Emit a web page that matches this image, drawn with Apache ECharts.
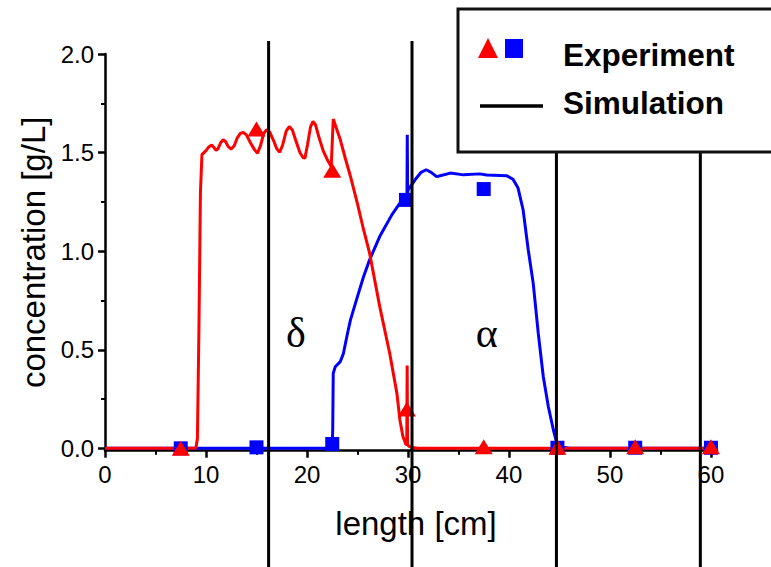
<!DOCTYPE html>
<html><head><meta charset="utf-8">
<script src="https://cdn.jsdelivr.net/npm/echarts@6/dist/echarts.min.js"></script>
<style>html,body{margin:0;padding:0;background:#fff}#c{width:771px;height:567px}</style>
</head><body><div id="c"></div>
<script>
const deltaSim = [[0,0],[9.0,0],[9.15,0.05],[9.3,0.6],[9.45,1.3],[9.6,1.49],[9.8,1.50],[10.0,1.51],[10.3,1.53],[10.56,1.538],[10.8,1.525],[11.0,1.512],[11.2,1.52],[11.45,1.55],[11.7,1.565],[11.95,1.555],[12.2,1.53],[12.5,1.518],[12.8,1.535],[13.1,1.575],[13.4,1.597],[13.7,1.603],[14.0,1.59],[14.4,1.55],[14.8,1.515],[15.1,1.497],[15.4,1.535],[15.7,1.595],[16.0,1.616],[16.3,1.605],[16.7,1.56],[17.0,1.52],[17.3,1.502],[17.6,1.54],[17.95,1.61],[18.25,1.632],[18.55,1.615],[18.9,1.56],[19.3,1.50],[19.6,1.475],[19.8,1.472],[20.05,1.54],[20.35,1.63],[20.6,1.658],[20.85,1.64],[21.2,1.575],[21.6,1.51],[22.0,1.465],[22.4,1.43],[22.5,1.55],[22.6,1.67],[23.3,1.565],[23.8,1.47],[24.3,1.38],[25.0,1.24],[25.6,1.11],[26.2,0.99],[27.2,0.72],[28.2,0.48],[28.9,0.28],[29.2,0.144],[29.5,0.06],[29.8,0.02],[29.88,0.02],[29.92,0.42],[29.96,0.02],[30.1,0.01],[30.4,0.004],[31,0],[60.6,0]];
const alphaSim = [[0,0],[22.5,0],[22.55,0.1],[22.6,0.38],[22.8,0.414],[23.3,0.44],[23.6,0.48],[24.0,0.58],[24.3,0.65],[25.1,0.787],[25.6,0.87],[26.2,0.956],[27.2,1.074],[28.4,1.184],[29.2,1.244],[29.75,1.26],[29.9,1.26],[29.93,1.59],[29.97,1.29],[30.0,1.31],[30.7,1.362],[31.3,1.40],[31.8,1.413],[32.3,1.40],[32.8,1.379],[33.0,1.38],[34.2,1.396],[35.5,1.387],[37.1,1.392],[37.8,1.386],[39.8,1.382],[40.4,1.365],[40.9,1.32],[41.4,1.21],[41.9,1.01],[42.4,0.838],[42.9,0.584],[43.4,0.363],[43.9,0.211],[44.4,0.093],[44.7,0.034],[45.1,0.012],[45.5,0.004],[46,0],[60.6,0]];
const deltaExp = [[7.5,0],[15,1.62],[22.5,1.41],[29.9,0.2],[37.5,0.008],[44.8,0.005],[52.5,0.008],[60,0.008]];
const alphaExp = [[7.5,0],[15,0.005],[22.5,0.022],[29.8,1.26],[37.5,1.315],[44.8,0.003],[52.5,0.003],[60,0.003]];
const xMajorTicks = [0,10,20,30,40,50,60];
const xMinorTicks = [5,15,25,35,45,55];
const yMajorTicks = [0,0.5,1,1.5,2];
const yMinorTicks = [0.25,0.75,1.25,1.75];
const boundaryLines = [16.2,30.4,44.7,58.95];
const regionLabels = [{text:'δ', x:18.9, y:0.585},{text:'α', x:37.8, y:0.585}];
const legendLabels = ['Experiment','Simulation'];

const FONT = 'Liberation Sans, Arial, sans-serif';
const chart = echarts.init(document.getElementById('c'), null, {renderer:'svg'});
const axisLineStyle = {color:'#000', width:2.5};
chart.setOption({
  animation:false,
  backgroundColor:'#fff',
  grid:{left:105, right:54, top:54, bottom:116.3},
  xAxis:[
    {type:'value', min:0, max:60.6, position:'bottom',
     axisLine:{onZero:false, lineStyle:axisLineStyle},
     axisTick:{customValues:xMajorTicks, length:7, lineStyle:{color:'#000', width:2.5}},
     axisLabel:{customValues:xMajorTicks, fontSize:24, color:'#000', margin:12, fontFamily:FONT},
     splitLine:{show:false},
     name:'length [cm]', nameLocation:'middle', nameGap:56,
     nameTextStyle:{fontSize:33, color:'#000', fontFamily:FONT, padding:[0,0,0,10]}},
    {type:'value', min:0, max:60.6, position:'bottom',
     axisLine:{show:false, onZero:false},
     axisTick:{customValues:xMinorTicks, length:4, lineStyle:{color:'#000', width:2}},
     axisLabel:{show:false}, splitLine:{show:false}}
  ],
  yAxis:[
    {type:'value', min:-0.012, max:2, position:'left',
     axisLine:{onZero:false, lineStyle:axisLineStyle},
     axisTick:{customValues:yMajorTicks, length:7, lineStyle:{color:'#000', width:2.5}},
     axisLabel:{customValues:yMajorTicks, fontSize:24, color:'#000', margin:11, fontFamily:FONT,
       formatter:v=>Number(v).toFixed(1)},
     splitLine:{show:false},
     name:'concentration [g/L]', nameLocation:'middle', nameGap:52,
     nameTextStyle:{fontSize:33, color:'#000', fontFamily:FONT}},
    {type:'value', min:-0.012, max:2, position:'left',
     axisLine:{show:false, onZero:false},
     axisTick:{customValues:yMinorTicks, length:4, lineStyle:{color:'#000', width:2}},
     axisLabel:{show:false}, splitLine:{show:false}}
  ],
  series:[
    {type:'line', data:alphaSim, showSymbol:false, lineStyle:{color:'#0000ff', width:3}, itemStyle:{color:'#0000ff'}, z:2},
    {type:'line', data:deltaSim, showSymbol:false, lineStyle:{color:'#ff0000', width:3}, itemStyle:{color:'#ff0000'}, z:3},
    {type:'scatter', data:alphaExp, symbol:'rect', symbolSize:14, itemStyle:{color:'#0000ff', opacity:1}, z:4},
    {type:'scatter', data:deltaExp, symbol:'triangle', symbolSize:[18,15], itemStyle:{color:'#ff0000', opacity:1}, z:5}
  ]
});

const px = v => chart.convertToPixel({xAxisIndex:0}, v);
const py = v => chart.convertToPixel({yAxisIndex:0}, v);
const graphics = [];
boundaryLines.forEach((v,i)=>{
  const x = px(v);
  graphics.push({type:'line', shape:{x1:x, y1:(i<2?41:153), x2:x, y2:567}, style:{stroke:'#000', lineWidth:3}, z:100});
});
regionLabels.forEach(r=>{
  graphics.push({type:'text', x:px(r.x), y:py(r.y), style:{text:r.text, font:'42px "Liberation Serif", "Times New Roman", serif', fill:'#000', align:'center', verticalAlign:'middle'}, z:100});
});
// legend
graphics.push({type:'rect', shape:{x:458, y:9, width:330, height:143}, style:{stroke:'#111', lineWidth:3, fill:'#fff'}, z:100});
graphics.push({type:'polygon', shape:{points:[[478,58],[488,38],[498,58]]}, style:{fill:'#ff0000'}, z:101});
graphics.push({type:'rect', shape:{x:505, y:39, width:18, height:19}, style:{fill:'#0000ff'}, z:101});
graphics.push({type:'line', shape:{x1:480, y1:106, x2:543, y2:106}, style:{stroke:'#000', lineWidth:3.5}, z:101});
graphics.push({type:'text', x:563, y:55, style:{text:legendLabels[0], font:'bold 31.5px "Liberation Sans", Arial, sans-serif', fill:'#000', verticalAlign:'middle'}, z:101});
graphics.push({type:'text', x:563, y:103, style:{text:legendLabels[1], font:'bold 31.5px "Liberation Sans", Arial, sans-serif', fill:'#000', verticalAlign:'middle'}, z:101});
chart.setOption({graphic:graphics});
</script>
</body></html>
